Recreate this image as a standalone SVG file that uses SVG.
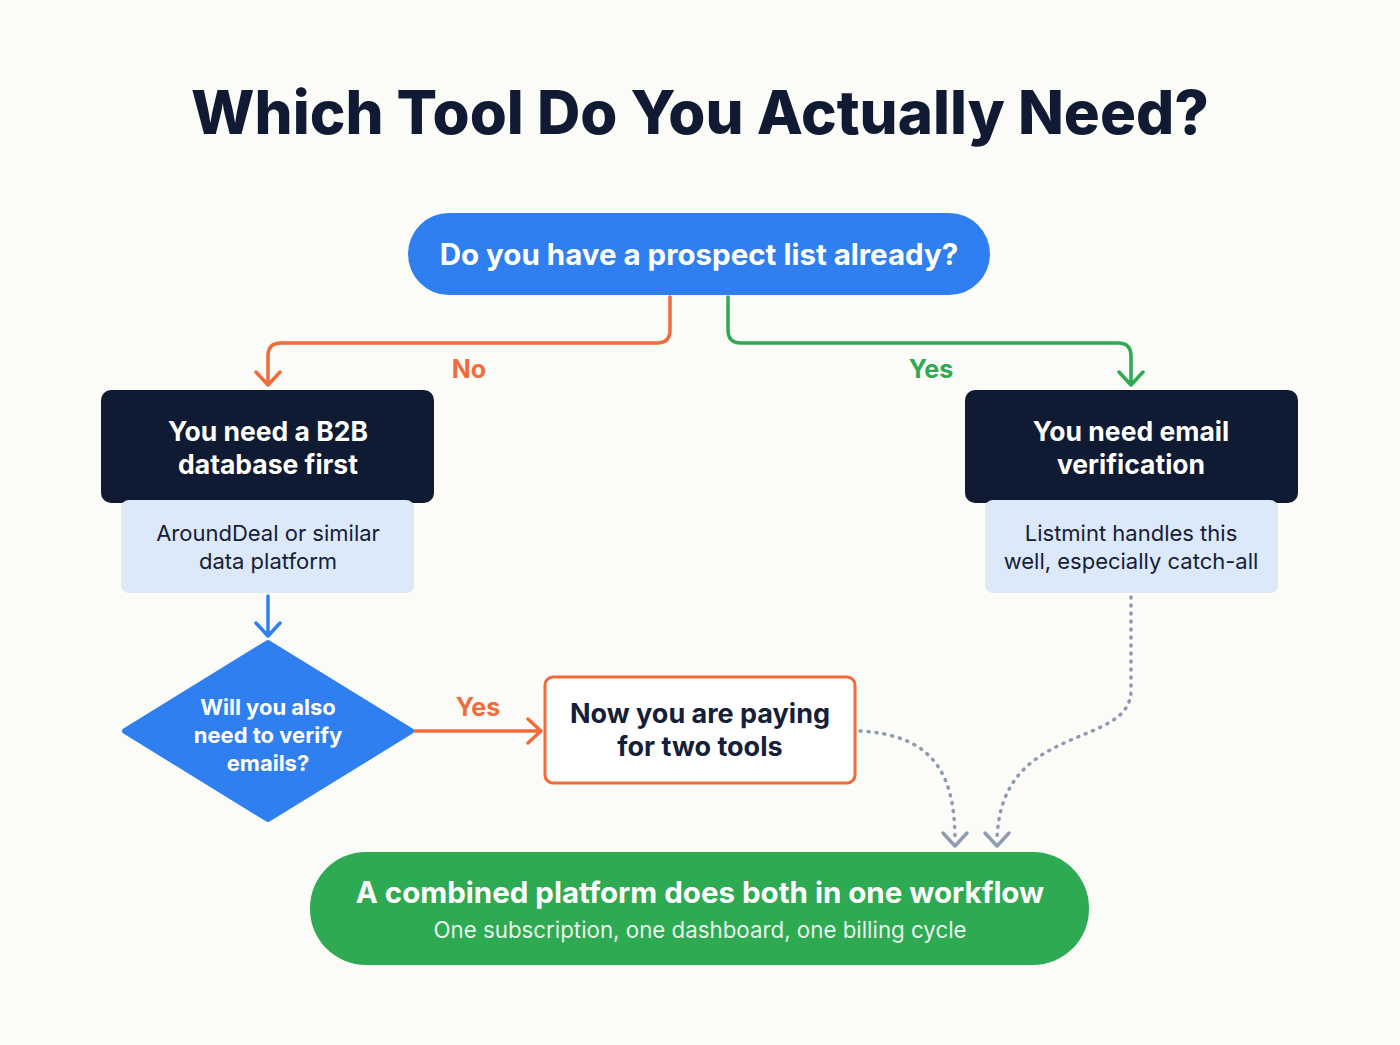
<svg xmlns="http://www.w3.org/2000/svg" width="1400" height="1045" viewBox="0 0 1400 1045">
<style>
text{font-family:Inter,"Liberation Sans",sans-serif;text-anchor:middle}
.w{fill:#fff;font-weight:700}
.d{fill:#152038}
.c{fill:none;stroke-width:3.5;stroke-linecap:round;stroke-linejoin:round}
</style>
<rect width="1400" height="1045" fill="#fbfbf8"/>
<text x="700" y="134" font-size="60" font-weight="800" fill="#111a33">Which Tool Do You Actually Need?</text>
<g id="connectors">
<path class="c" stroke="#f26b3a" d="M670,297 V330 Q670,343 657,343 H281 Q268,343 268,356 V384 M256,372 L268,385 L280,372"/>
<path class="c" stroke="#2eaa52" d="M728,297 V330 Q728,343 741,343 H1118 Q1131,343 1131,356 V384 M1119,372 L1131,385 L1143,372"/>
<path class="c" stroke="#2f7ff0" d="M268,596 V635 M256,623 L268,636 L280,623"/>
<path class="c" stroke="#f26b3a" d="M415,731 H540 M528,719 L541,731 L528,743"/>
<path class="c" stroke="#8f9bb3" stroke-dasharray="1 7" d="M860,731 C930,735 955,770 955,840"/>
<path class="c" stroke="#8f9bb3" d="M943,833 L955,846 L967,833 M985,833 L997,846 L1009,833"/>
<path class="c" stroke="#8f9bb3" stroke-dasharray="1 7" d="M1131,597 V690 C1131,750 1000,720 997,840"/>
<text x="469" y="378" font-size="25" font-weight="700" fill="#f26b3a">No</text>
<text x="931" y="378" font-size="25" font-weight="700" fill="#2eaa52">Yes</text>
<text x="478" y="716" font-size="25" font-weight="700" fill="#f26b3a">Yes</text>
</g>
<g id="start">
<rect x="408" y="213" width="582" height="82" rx="41" fill="#2f7ff0"/>
<text x="699" y="265" font-size="29.5" class="w">Do you have a prospect list already?</text>
</g>
<g id="b2b">
<rect x="101" y="390" width="333" height="113" rx="10" fill="#0f1a33"/>
<text x="268" y="441" font-size="26.5" class="w">You need a B2B</text>
<text x="268" y="474" font-size="26.5" class="w">database first</text>
<rect x="121" y="500" width="293" height="93" rx="8" fill="#dbe9fb"/>
<text x="268" y="541" font-size="22" class="d">AroundDeal or similar</text>
<text x="268" y="569" font-size="22" class="d">data platform</text>
</g>
<g id="verify">
<rect x="965" y="390" width="333" height="113" rx="10" fill="#0f1a33"/>
<text x="1131" y="441" font-size="26.5" class="w">You need email</text>
<text x="1131" y="474" font-size="26.5" class="w">verification</text>
<rect x="985" y="500" width="293" height="93" rx="8" fill="#dbe9fb"/>
<text x="1131" y="541" font-size="22" class="d">Listmint handles this</text>
<text x="1131" y="569" font-size="22" class="d">well, especially catch-all</text>
</g>
<g id="decision">
<path d="M268,643 L411,731 L268,819 L125,731 Z" fill="#2f7ff0" stroke="#2f7ff0" stroke-width="6" stroke-linejoin="round"/>
<text x="268" y="715" font-size="22" class="w">Will you also</text>
<text x="268" y="743" font-size="22" class="w">need to verify</text>
<text x="268" y="771" font-size="22" class="w">emails?</text>
</g>
<g id="two">
<rect x="545" y="677" width="310" height="106" rx="8" fill="#fff" stroke="#f26b3a" stroke-width="3"/>
<text x="700" y="723" font-size="27" font-weight="700" class="d">Now you are paying</text>
<text x="700" y="756" font-size="27" font-weight="700" class="d">for two tools</text>
</g>
<g id="combined">
<rect x="310" y="852" width="779" height="113" rx="56" fill="#2eaa52"/>
<text x="700" y="903" font-size="29.5" class="w">A combined platform does both in one workflow</text>
<text x="700" y="938" font-size="22.3" fill="#e6f5ea">One subscription, one dashboard, one billing cycle</text>
</g>
</svg>
